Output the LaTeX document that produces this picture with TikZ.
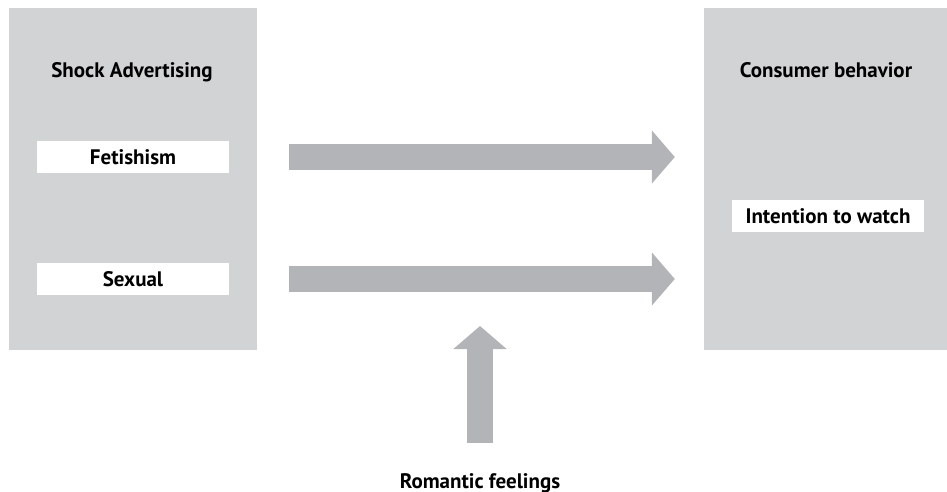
\documentclass[tikz,border=0pt]{standalone}
\usepackage{fontspec}
\setmainfont{PT Sans}
\usepackage{tikz}
\usetikzlibrary{arrows.meta,positioning,calc}
\definecolor{boxgray}{RGB}{209,211,212}
\definecolor{arrgray}{RGB}{178,180,183}
\newcommand{\lblfont}{\bfseries\fontsize{21}{24}\selectfont}

\begin{document}
\begin{tikzpicture}[
  x=1pt,y=-1pt,
  grp/.style={fill=boxgray,minimum width=248pt,minimum height=342pt,inner sep=0pt},
  lbl/.style={fill=white,minimum width=192pt,minimum height=32pt,inner sep=0pt,font=\lblfont},
  ttl/.style={anchor=base,inner sep=0pt,font=\lblfont},
  bigarr/.style={draw=arrgray,line width=26pt,-{Triangle[length=23pt,width=52pt]}}
]
\useasboundingbox (0,0) rectangle (947,492);
\node[grp] (shock) at (133,179) {};
\node[grp,minimum width=243pt] (cons) at (825.5,179) {};

\node[ttl] (shockt) at (132,78) {Shock Advertising};
\node[ttl] (const) at (826,78) {Consumer behavior};
\node[lbl] (fet) at (133,157) {Fetishism};
\node[lbl] (sex) at (133,279) {Sexual};
\node[lbl] (watch) at (828,216) {Intention to watch};
\node[ttl] (rom) at (480,488) {Romantic feelings};
\coordinate (romtip) at (480,326);

\draw[bigarr] ($(shock.east |- fet.east)+(32,0)$) -- ($(cons.west |- fet.east)+(-29,0)$);
\draw[bigarr] ($(shock.east |- sex.east)+(32,0)$) -- ($(cons.west |- sex.east)+(-29,0)$);
\draw[bigarr] ([yshift=45pt]rom.base) -- (romtip);
\end{tikzpicture}
\end{document}
